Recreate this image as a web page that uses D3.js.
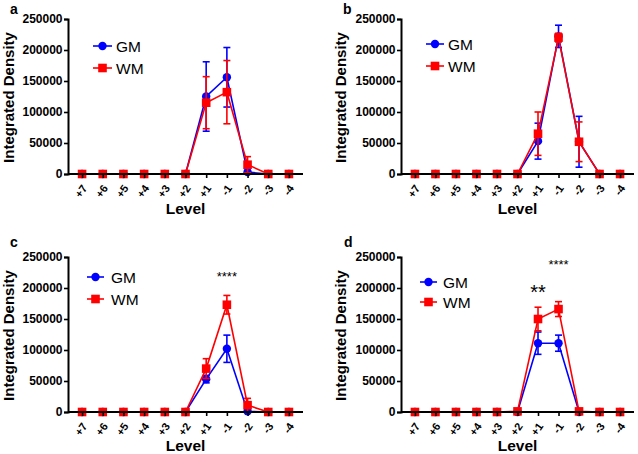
<!DOCTYPE html>
<html>
<head>
<meta charset="utf-8">
<script src="https://cdn.jsdelivr.net/npm/d3@7"></script>
<style>
  body { margin: 0; background: #fff; }
  svg { display: block; font-family: "Liberation Sans", Arial, sans-serif; }
</style>
</head>
<body>
<svg id="chart" width="638" height="454"></svg>
<script>
// ---------- data ----------
const levels = ["+7", "+6", "+5", "+4", "+3", "+2", "+1", "-1", "-2", "-3", "-4"];
const yTicks = [0, 50000, 100000, 150000, 200000, 250000];
const seriesNames = ["GM", "WM"];
const seriesColors = ["#0000ff", "#ff0000"];
const panelLetters = ["a", "b", "c", "d"];

const gmA    = [0, 0, 0, 0, 0, 0, 125000, 156000, 3000, 0, 0];
const gmAErr = [0, 0, 0, 0, 0, 0, 56000, 48000, 3000, 0, 0];
const wmA    = [0, 0, 0, 0, 0, 0, 115000, 132000, 15000, 0, 0];
const wmAErr = [0, 0, 0, 0, 0, 0, 42000, 51000, 13000, 0, 0];

const gmB    = [0, 0, 0, 0, 0, 0, 53000, 222000, 52000, 0, 0];
const gmBErr = [0, 0, 0, 0, 0, 0, 29000, 18000, 41000, 0, 0];
const wmB    = [0, 0, 0, 0, 0, 0, 65000, 220000, 52000, 0, 0];
const wmBErr = [0, 0, 0, 0, 0, 0, 35000, 7000, 32000, 0, 0];

const gmC    = [0, 0, 0, 0, 0, 0, 53000, 102000, 1000, 0, 0];
const gmCErr = [0, 0, 0, 0, 0, 0, 6000, 22000, 2000, 0, 0];
const wmC    = [0, 0, 0, 0, 0, 0, 70000, 173000, 11000, 0, 0];
const wmCErr = [0, 0, 0, 0, 0, 0, 16000, 15000, 11000, 0, 0];

const gmD    = [0, 0, 0, 0, 0, 0, 111000, 111000, 0, 0, 0];
const gmDErr = [0, 0, 0, 0, 0, 0, 18000, 13000, 0, 0, 0];
const wmD    = [0, 0, 0, 0, 0, 1000, 150000, 166000, 1000, 0, 0];
const wmDErr = [0, 0, 0, 0, 0, 0, 19000, 12000, 0, 0, 0];

// significance marks
const sigLevels = ["-1", "+1", "-1"];
const sigTexts  = ["****", "**", "****"];
const sigPanels = [2, 3, 3];
const sigValues = [212000, 182000, 231000];
const sigSizes  = [13, 20, 13];

// ---------- layout ----------
const panels = [
  { left: 68,  right: 303, top: 19,  bottom: 174, gm: gmA, gmE: gmAErr, wm: wmA, wmE: wmAErr,
    leg: { x0: 25, x1: 44, tx: 48, y0: 27, y1: 49 }, letter: [10, 14], levelY: 214, ylabX: 13.5 },
  { left: 401, right: 634, top: 19,  bottom: 174, gm: gmB, gmE: gmBErr, wm: wmB, wmE: wmBErr,
    leg: { x0: 25, x1: 43, tx: 47, y0: 25, y1: 47 }, letter: [343, 14], levelY: 214, ylabX: 346 },
  { left: 68,  right: 303, top: 257, bottom: 412, gm: gmC, gmE: gmCErr, wm: wmC, wmE: wmCErr,
    leg: { x0: 19, x1: 36, tx: 43, y0: 20, y1: 42 }, letter: [10, 247], levelY: 451, ylabX: 13.5 },
  { left: 401, right: 634, top: 257, bottom: 412, gm: gmD, gmE: gmDErr, wm: wmD, wmE: wmDErr,
    leg: { x0: 19, x1: 36, tx: 42, y0: 25, y1: 45 }, letter: [344, 247], levelY: 451, ylabX: 346 }
];

const svg = d3.select("#chart");

function marker(g, i, x, y) {
  if (i === 0) {
    g.append("circle").attr("cx", x).attr("cy", y).attr("r", 4.2).attr("fill", seriesColors[i]);
  } else {
    g.append("rect").attr("x", x - 4.3).attr("y", y - 4.3).attr("width", 8.6).attr("height", 8.6)
      .attr("fill", seriesColors[i]);
  }
}

panels.forEach((p, pi) => {
  const g = svg.append("g");
  const x = d3.scalePoint().domain(levels).range([p.left, p.right]).padding(0.68);
  const y = d3.scaleLinear().domain([0, 250000]).range([p.bottom, p.top]);

  // series
  const series = [[p.gm, p.gmE], [p.wm, p.wmE]];
  series.forEach(([vals, errs], si) => {
    const col = seriesColors[si];
    const sg = g.append("g");
    const line = d3.line().x((d, i) => x(levels[i])).y(d => y(d));
    sg.append("path").datum(vals).attr("d", line).attr("fill", "none")
      .attr("stroke", col).attr("stroke-width", 1.6);
    vals.forEach((v, i) => {
      const e = errs[i];
      if (e > 0) {
        const cx = x(levels[i]);
        const y1 = y(v + e), y0 = y(Math.max(0, v - e));
        sg.append("line").attr("x1", cx).attr("x2", cx).attr("y1", y1).attr("y2", y0)
          .attr("stroke", col).attr("stroke-width", 1.6);
        [y1, y0].forEach(yy => sg.append("line").attr("x1", cx - 3.5).attr("x2", cx + 3.5)
          .attr("y1", yy).attr("y2", yy).attr("stroke", col).attr("stroke-width", 1.6));
      }
    });
    vals.forEach((v, i) => marker(sg, si, x(levels[i]), y(v)));
  });

  // axes
  const yAxis = d3.axisLeft(y).tickValues(yTicks).tickSize(4).tickPadding(1.5).tickFormat(d3.format("d"));
  const ya = g.append("g").attr("transform", `translate(${p.left},0)`).call(yAxis);
  ya.select(".domain").attr("stroke-width", 2);
  ya.selectAll(".tick line").attr("stroke-width", 1.6);
  ya.selectAll("text").attr("font-size", 12).attr("font-weight", "bold")
    .attr("font-family", "Liberation Sans, Arial, sans-serif").attr("fill", "#000");

  const xAxis = d3.axisBottom(x).tickSize(4).tickSizeOuter(0);
  const xa = g.append("g").attr("transform", `translate(0,${p.bottom})`).call(xAxis);
  xa.select(".domain").attr("stroke-width", 2).attr("d", `M${p.left},0H${p.right}`);
  xa.selectAll(".tick line").attr("stroke-width", 1.6);
  xa.selectAll("text").attr("font-size", 11).attr("font-weight", "bold")
    .attr("font-family", "Liberation Sans, Arial, sans-serif").attr("fill", "#000")
    .attr("text-anchor", "end").attr("y", 0).attr("dy", "0.35em")
    .attr("transform", "translate(2,12) rotate(-55)");

  // axis titles
  g.append("text").attr("x", (p.left + p.right) / 2).attr("y", p.levelY)
    .attr("text-anchor", "middle").attr("font-size", 15.5).attr("font-weight", "bold").text("Level");
  g.append("text").attr("transform", `translate(${p.ylabX},${(p.top + p.bottom) / 2 + 1}) rotate(-90)`)
    .attr("text-anchor", "middle").attr("font-size", 15).attr("font-weight", "bold").text("Integrated Density");

  // panel letter
  g.append("text").attr("x", p.letter[0]).attr("y", p.letter[1])
    .attr("font-size", 14).attr("font-weight", "bold").text(panelLetters[pi]);

  // legend
  const L = p.leg;
  [L.y0, L.y1].forEach((ly, si) => {
    const yy = p.top + ly;
    g.append("line").attr("x1", p.left + L.x0).attr("x2", p.left + L.x1).attr("y1", yy).attr("y2", yy)
      .attr("stroke", seriesColors[si]).attr("stroke-width", 1.6);
    marker(g, si, p.left + (L.x0 + L.x1) / 2, yy);
    g.append("text").attr("x", p.left + L.tx).attr("y", yy).attr("dy", "0.36em")
      .attr("font-size", 15.5).text(seriesNames[si]);
  });

  // significance
  sigPanels.forEach((sp, k) => {
    if (sp !== pi) return;
    g.append("text").attr("x", x(sigLevels[k])).attr("y", y(sigValues[k]))
      .attr("text-anchor", "middle").attr("font-size", sigSizes[k]).text(sigTexts[k]);
  });
});
</script>
</body>
</html>
